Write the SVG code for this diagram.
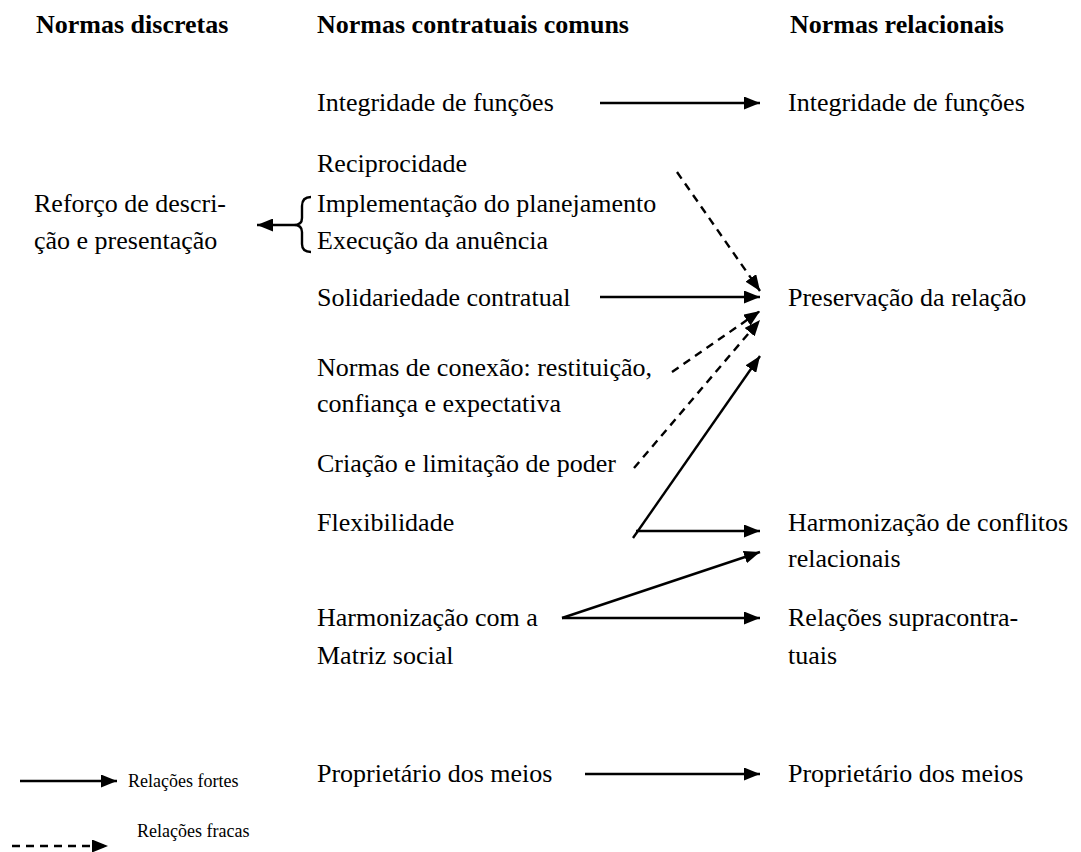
<svg xmlns="http://www.w3.org/2000/svg" width="1081" height="852" viewBox="0 0 1081 852">
<defs>
<marker id="ahl" viewBox="0 0 16 13" refX="16" refY="6.5" markerWidth="16" markerHeight="13" markerUnits="userSpaceOnUse" orient="auto">
<path d="M0,0 L16,6.5 L0,13 Z" fill="#000"/>
</marker>
</defs>
<style>
text{font-family:'Liberation Serif','Times New Roman',serif;font-size:26px;fill:#000}
.h{font-weight:bold}
.s{font-size:18px}
.c{stroke:#000;stroke-width:2.4;fill:none}
.d{stroke-dasharray:8,6}
</style>
<rect width="1081" height="852" fill="#fff"/>
<g id="headers">
<text class="h" x="36" y="33">Normas discretas</text>
<text class="h" x="317" y="33">Normas contratuais comuns</text>
<text class="h" x="790" y="33">Normas relacionais</text>
</g>
<g id="n-integridade-l"><text x="317" y="111">Integridade de funções</text></g>
<g id="n-integridade-r"><text x="788" y="111">Integridade de funções</text></g>
<g id="n-reciprocidade">
<text x="317" y="172">Reciprocidade</text>
<text x="317" y="212">Implementação do planejamento</text>
<text x="317" y="249">Execução da anuência</text>
</g>
<g id="n-reforco">
<text x="34" y="212">Reforço de descri-</text>
<text x="34" y="249">ção e presentação</text>
</g>
<g id="n-solidariedade"><text x="317" y="306">Solidariedade contratual</text></g>
<g id="n-preservacao"><text x="788" y="306">Preservação da relação</text></g>
<g id="n-conexao">
<text x="317" y="376">Normas de conexão: restituição,</text>
<text x="317" y="412">confiança e expectativa</text>
</g>
<g id="n-criacao"><text x="317" y="472">Criação e limitação de poder</text></g>
<g id="n-flexibilidade"><text x="317" y="531">Flexibilidade</text></g>
<g id="n-harmconf">
<text x="788" y="531">Harmonização de conflitos</text>
<text x="788" y="567">relacionais</text>
</g>
<g id="n-harmmatriz">
<text x="317" y="626">Harmonização com a</text>
<text x="317" y="664">Matriz social</text>
</g>
<g id="n-supra">
<text x="788" y="626">Relações supracontra-</text>
<text x="788" y="664">tuais</text>
</g>
<g id="n-proprietario-l"><text x="317" y="782">Proprietário dos meios</text></g>
<g id="n-proprietario-r"><text x="788" y="782">Proprietário dos meios</text></g>
<g id="connectors">
<line class="c" x1="600" y1="103" x2="760" y2="103" marker-end="url(#ahl)"/>
<path class="c" d="M311,197 Q302,197 302,206 L302,218 Q302,225 294,225 Q302,225 302,232 L302,244 Q302,252 311,252"/>
<line class="c" x1="294" y1="225" x2="257" y2="225" marker-end="url(#ahl)"/>
<line class="c d" x1="677" y1="172" x2="760" y2="291" marker-end="url(#ahl)"/>
<line class="c" x1="600" y1="297" x2="760" y2="297" marker-end="url(#ahl)"/>
<line class="c d" x1="672" y1="372" x2="760" y2="311" marker-end="url(#ahl)"/>
<line class="c d" x1="634" y1="468" x2="760" y2="320" marker-end="url(#ahl)"/>
<line class="c" x1="633" y1="538" x2="760" y2="356" marker-end="url(#ahl)"/>
<line class="c" x1="636" y1="531" x2="760" y2="531" marker-end="url(#ahl)"/>
<line class="c" x1="562" y1="618" x2="760" y2="552" marker-end="url(#ahl)"/>
<line class="c" x1="562" y1="618" x2="760" y2="618" marker-end="url(#ahl)"/>
<line class="c" x1="585" y1="774" x2="760" y2="774" marker-end="url(#ahl)"/>
</g>
<g id="legend">
<line class="c" x1="20" y1="781" x2="117" y2="781" marker-end="url(#ahl)"/>
<text class="s" x="128" y="787">Relações fortes</text>
<line class="c d" x1="12" y1="846" x2="108" y2="846" marker-end="url(#ahl)"/>
<text class="s" x="137" y="837">Relações fracas</text>
</g>
</svg>
